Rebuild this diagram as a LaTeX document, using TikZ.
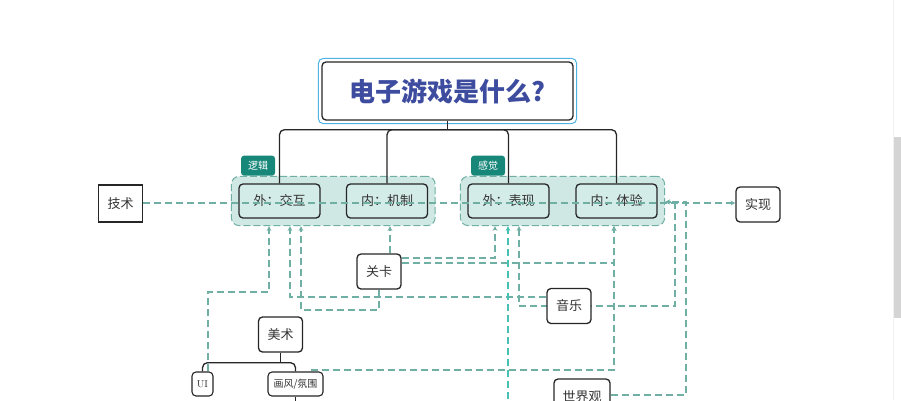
\documentclass[tikz,border=0pt]{standalone}
\usepackage{fontspec}
\newfontfamily\cjk{Noto Sans CJK SC}
\usetikzlibrary{fit,backgrounds}
\pgfdeclarelayer{links}
\pgfsetlayers{background,links,main}

\definecolor{linkteal}{HTML}{6FAFA4}
\definecolor{brightteal}{HTML}{45C2B1}
\definecolor{groupfill}{HTML}{CFE8E4}
\definecolor{boxfill}{HTML}{D4ECE8}
\definecolor{tagteal}{HTML}{17877A}
\definecolor{titleblue}{HTML}{3D4C9F}
\definecolor{framesky}{HTML}{4FB3E3}
\definecolor{textgray}{HTML}{333333}

\begin{document}
\begin{tikzpicture}[
    x=1pt, y=-1pt,
    box/.style={rectangle, draw=black!85, line width=1.3pt, rounded corners=4pt, fill=white, minimum width=44pt, minimum height=35pt, inner sep=2pt, font=\cjk\fontsize{13}{13}\selectfont, text=textgray},
    sidebox/.style={box, fill=boxfill, minimum width=81pt, minimum height=34pt},
    leaf/.style={box, minimum height=24pt, line width=1.1pt, font=\cjk\fontsize{10}{10}\selectfont},
    group/.style={rectangle, draw=linkteal, dash pattern=on 7pt off 3pt, fill=groupfill, rounded corners=8pt, inner sep=7pt, line width=1pt},
    tag/.style={rectangle, fill=tagteal, text=white, minimum width=34pt, minimum height=20pt, inner sep=0pt, rounded corners=3pt, font=\cjk\fontsize{10}{10}\selectfont},
    tree/.style={draw=black!85, line width=1.3pt, rounded corners=5pt},
    link/.style={->, >=stealth, draw=linkteal, dash pattern=on 7pt off 4pt, line width=1.1pt}
]
\useasboundingbox (0,0) rectangle (901,400);

% Title
\node[draw=black!85, line width=1.3pt, rounded corners=4pt, fill=white, minimum width=251pt, minimum height=58pt, font=\cjk\bfseries\fontsize{26}{26}\selectfont, text=titleblue] (title) at (447.5,91) {电子游戏是什么?};
\draw[framesky, line width=1pt, rounded corners=5pt] ([shift={(-3pt,-3pt)}]title.south west) rectangle ([shift={(3pt,3pt)}]title.north east);

% Main boxes
\node[sidebox] (jiaohu) at (279.5,201) {外：交互};
\node[sidebox] (jizhi) at (387,201) {内：机制};
\node[sidebox] (biaoxian) at (508.5,201) {外：表现};
\node[sidebox] (tiyan) at (616.5,201) {内：体验};

\node[box, rounded corners=0pt, minimum height=37pt] (jishu) at (120.5,203.5) {技术};
\node[box] (shixian) at (758,204.5) {实现};

% Groups
\begin{scope}[on background layer]
\node[group, fit=(jiaohu)(jizhi)] (logicgroup) {};
\node[group, fit=(biaoxian)(tiyan)] (sensegroup) {};
\end{scope}
\node[tag, anchor=south west] (logictag) at ([xshift=10pt]logicgroup.north west) {逻辑};
\node[tag, anchor=south west] (sensetag) at ([xshift=11pt]sensegroup.north west) {感觉};

% Lower boxes
\node[box] (guanka) at (379,271.5) {关卡};
\node[box] (yinyue) at (569,306) {音乐};
\node[box] (meishu) at (280.5,334.5) {美术};
\node[leaf, minimum width=21pt, font=\fontsize{10}{10}\selectfont] (ui) at (202.5,384) {UI};
\node[leaf, minimum width=55pt] (huafeng) at (295.5,384) {画风/氛围};
\node[box, minimum width=56pt, minimum height=36pt] (shijieguan) at (582,397) {世界观};
\coordinate (offpage) at (508,410);

% Tree lines
\draw[tree] (title.south) -- ++(0,9) coordinate (hub);
\draw[tree] (hub) -| (jiaohu.north);
\draw[tree] (hub) -| (jizhi.north);
\draw[tree] (hub) -| (biaoxian.north);
\draw[tree] (hub) -| (tiyan.north);

\draw[tree] (meishu.south) -- ++(0,10) coordinate (arthub);
\draw[tree] (arthub) -| (ui.north);
\draw[tree] (arthub) -| (huafeng.north);
\draw[tree] (huafeng.south) -- ++(0,20);

% Dashed links
\draw[link] (jishu.east |- 0,203) -- (shixian.west |- 0,203);

\begin{pgfonlayer}{links}
\draw[link] (ui.north -| 208,0) |- (269,292) -- (269,0 |- logicgroup.south);
\draw[link] (yinyue.west |- 0,297) -| (290,0 |- logicgroup.south);
\draw[link] (guanka.south) |- (301,310) -- (301,0 |- logicgroup.south);
\draw[link] (guanka.north -| 390,0) -- (390,0 |- logicgroup.south);

\draw[link] (guanka.east |- 0,258) -| (495,0 |- sensegroup.south);
\draw[link] (guanka.east |- 0,263) -| (614,0 |- sensegroup.south);
\draw[link] (huafeng.north -| 312,0) |- (614,370) -- (614,0 |- sensegroup.south);
\draw[link, draw=brightteal] (offpage) -- (508,0 |- sensegroup.south);
\draw[link, <->] (519,0 |- sensegroup.south) |- (675,306) |- (sensegroup.east |- 0,202);
\draw[link] (shijieguan.east |- 0,395) -| (686,202) -- (sensegroup.east |- 0,202);
\end{pgfonlayer}

% Scroll bar
\draw[black!5] (893,0) -- (893,400);
\fill[black!17] (894,137) rectangle (901,318);
\end{tikzpicture}
\end{document}
